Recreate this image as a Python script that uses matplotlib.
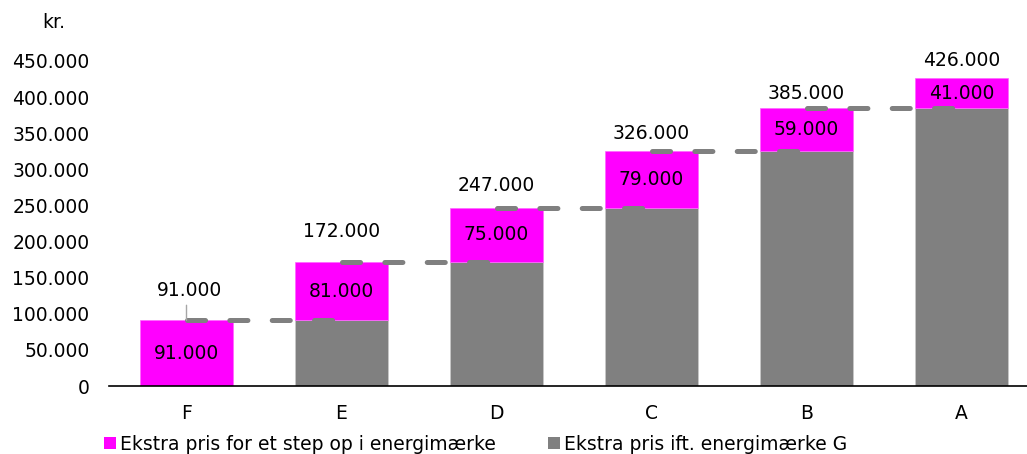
import matplotlib
matplotlib.use("Agg")
import matplotlib.pyplot as plt
from matplotlib.ticker import FuncFormatter

categories = ["F", "E", "D", "C", "B", "A"]
base_vals = [0, 91000, 172000, 247000, 326000, 385000]      # Ekstra pris ift. energimærke G
step_vals = [91000, 81000, 75000, 79000, 59000, 41000]      # Ekstra pris for et step op
total_vals = [91000, 172000, 247000, 326000, 385000, 426000]
yticks = [0, 50000, 100000, 150000, 200000, 250000, 300000, 350000, 400000, 450000]

MAGENTA = "#ff00ff"
GREY = "#808080"
FS = 13.5

plt.rcParams['font.family'] = ['DejaVu Sans']
plt.rcParams['lines.scale_dashes'] = False

fig = plt.figure(figsize=(10.27, 4.54), dpi=100)
ax = fig.add_axes([109/1027, 1-386/454, 1-109/1027, (386-61)/454])

def fmt(v):
    return f"{int(v):,}".replace(",", ".")

x = list(range(len(categories)))
w = 0.6
bars_base = ax.bar(x, base_vals, width=w, color=GREY, edgecolor="#c8c8c8", linewidth=0.6,
                   label="Ekstra pris ift. energimærke G", zorder=2)
bars_step = ax.bar(x, step_vals, width=w, bottom=base_vals, color=MAGENTA, edgecolor="#ff66ff",
                   linewidth=0.5, label="Ekstra pris for et step op i energimærke", zorder=2)

# dashed connectors
for i in range(len(categories) - 1):
    ax.plot([x[i], x[i+1]], [total_vals[i], total_vals[i]], color=GREY, lw=3.6,
            linestyle=(0, (13.0, 17.5)), solid_capstyle='round', dash_capstyle='round', zorder=3)

# inside labels
for i in range(len(categories)):
    ax.text(x[i], base_vals[i] + step_vals[i]/2, fmt(step_vals[i]), ha='center', va='center',
            fontsize=FS, color='black', zorder=4)

# total labels (offset in points above bar top)
offsets = [30, 30, 22, 17, 14, 18]
for i in range(len(categories)):
    ax.annotate(fmt(total_vals[i]), (x[i], total_vals[i]), xytext=(2 if i == 0 else 0, offsets[i]*0.72),
                textcoords='offset points', ha='center', va='center', fontsize=FS, zorder=4,
                annotation_clip=False)
# leader line for first label
ax.annotate("", (x[0], total_vals[0]), xytext=(0, 15*0.72), textcoords='offset points',
            arrowprops=dict(arrowstyle='-', color='#a6a6a6', lw=1, shrinkA=0, shrinkB=0), zorder=4)

ax.set_xlim(-0.5, (1027-186.5)/155)
ax.set_ylim(0, 450000)
ax.set_yticks(yticks)
ax.yaxis.set_major_formatter(FuncFormatter(lambda v, p: fmt(v)))
ax.set_xticks(x)
ax.set_xticklabels(categories)
ax.tick_params(axis='y', length=0, pad=14, labelsize=FS)
ax.tick_params(axis='x', length=0, pad=13, labelsize=FS)
for s in ['top', 'right', 'left']:
    ax.spines[s].set_visible(False)
ax.spines['bottom'].set_color('black')
ax.spines['bottom'].set_linewidth(1.2)
ax.spines['bottom'].set_zorder(5)

fig.text(54/1027, 1-23/454, "kr.", ha='center', va='center', fontsize=FS)

legend_items = [(bars_step, "Ekstra pris for et step op i energimærke", 104),
                (bars_base, "Ekstra pris ift. energimærke G", 548)]
for handle, lab, xpx in legend_items:
    leg = fig.legend([handle], [lab], loc='center left', bbox_to_anchor=(xpx/1027, 1-444/454),
                     frameon=False, fontsize=FS, handlelength=0.64, handleheight=0.64,
                     handletextpad=0.2, borderaxespad=0, borderpad=0)
    for h in leg.legend_handles:
        h.set_edgecolor('none')

fig.savefig("out.png", dpi=100)
